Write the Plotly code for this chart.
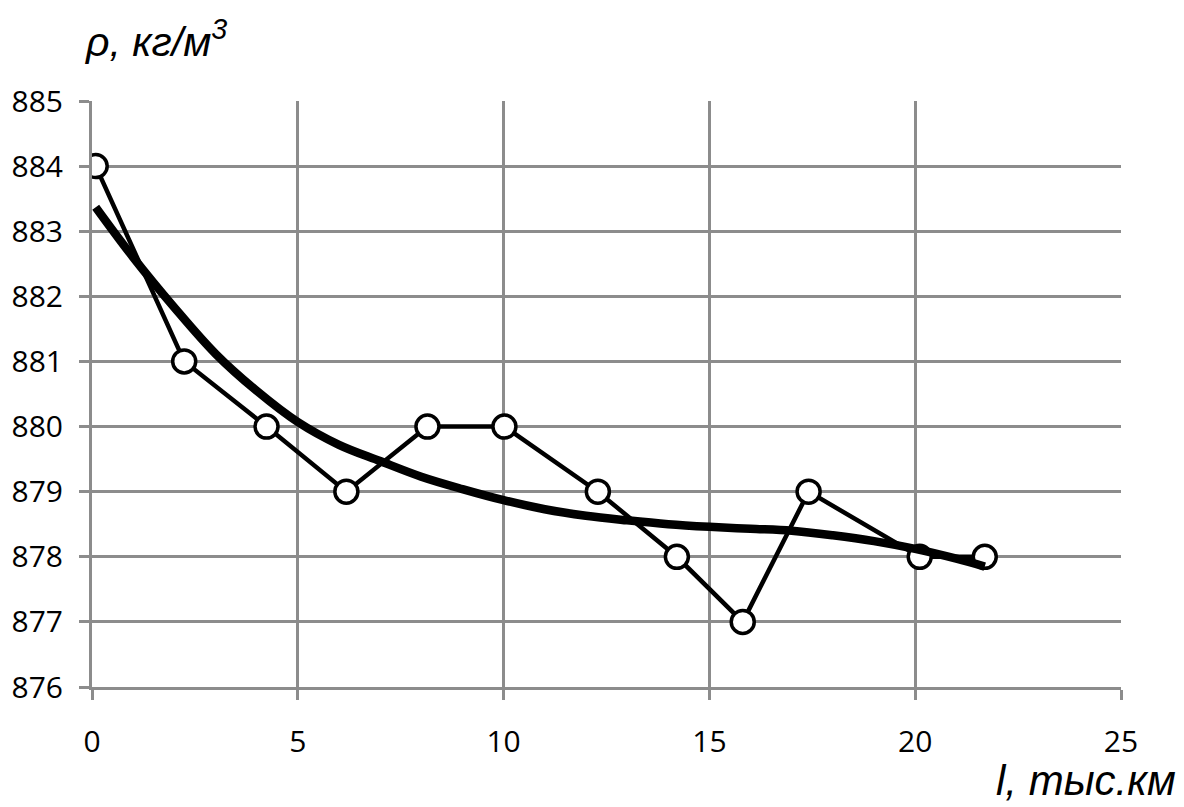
import plotly.graph_objects as go

# measured data
dist = [0.09, 2.24, 4.24, 6.18, 8.15, 10.02, 12.29, 14.21, 15.81, 17.41, 20.11, 21.69]
dens = [884, 881, 880, 879, 880, 880, 879, 878, 877, 879, 878, 878]

# trend line
trend_x = [0.09, 1, 2, 3, 4, 5, 6, 7, 8, 9, 10, 11, 12, 13, 14, 15, 16, 17, 18, 19, 20, 21, 21.69]
trend_y = [883.37, 882.6, 881.83, 881.12, 880.55, 880.07, 879.72, 879.47, 879.23, 879.04,
           878.87, 878.73, 878.63, 878.56, 878.5, 878.46, 878.43, 878.4, 878.33, 878.24,
           878.12, 877.97, 877.85]

x_ticks = [0, 5, 10, 15, 20, 25]
y_ticks = [876, 877, 878, 879, 880, 881, 882, 883, 884, 885]

GRID = "#8c8c8c"
FONT = "Open Sans"

fig = go.Figure()
fig.add_trace(go.Scatter(x=dist, y=dens, mode="lines+markers",
                         line=dict(color="black", width=4.5),
                         marker=dict(symbol="circle", size=23, color="white",
                                     line=dict(color="black", width=3.5)),
                         showlegend=False))
fig.add_trace(go.Scatter(x=trend_x, y=trend_y, mode="lines",
                         line=dict(color="black", width=8.5, shape="spline"),
                         showlegend=False))

fig.update_layout(
    width=1184, height=807,
    margin=dict(l=92, r=63, t=101, b=120),
    paper_bgcolor="white", plot_bgcolor="white",
    font=dict(family=FONT, size=30, color="black"),
    xaxis=dict(range=[0, 25], tickvals=x_ticks, showgrid=True, gridcolor=GRID, gridwidth=3,
               showline=True, linecolor=GRID, linewidth=3, ticks="outside", ticklen=10,
               tickwidth=3, tickcolor=GRID, zeroline=False, ticklabelstandoff=16,
               tickfont=dict(family=FONT, size=30)),
    yaxis=dict(range=[876, 885], tickvals=y_ticks, showgrid=True, gridcolor=GRID, gridwidth=3,
               showline=True, linecolor=GRID, linewidth=3, ticks="outside", ticklen=10,
               tickwidth=3, tickcolor=GRID, zeroline=False, ticklabelstandoff=10,
               tickfont=dict(family=FONT, size=30)),
    annotations=[
        dict(text="<i>ρ, кг/м<sup>3</sup></i>", xref="paper", yref="paper",
             x=0, y=1, xshift=-9, yshift=62, xanchor="left", yanchor="middle",
             showarrow=False, font=dict(family="Liberation Sans", size=41)),
        dict(text="<i>l, тыс.км</i>", xref="paper", yref="paper",
             x=1, y=0, xshift=57, yshift=-93, xanchor="right", yanchor="middle",
             showarrow=False, font=dict(family="Liberation Sans", size=42)),
    ],
)
fig.write_html("out.html")
